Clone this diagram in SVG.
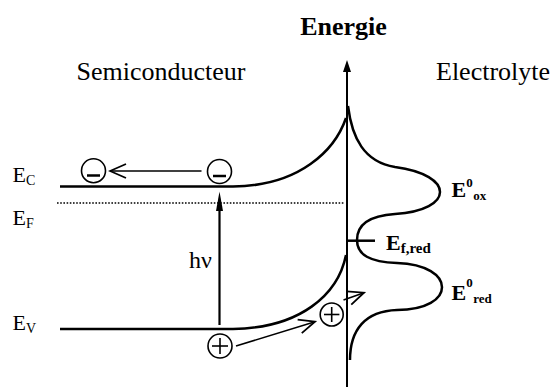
<svg xmlns="http://www.w3.org/2000/svg" width="553" height="387" viewBox="0 0 553 387">
<style>
text{font-family:"Liberation Serif","DejaVu Serif",serif;fill:#000}
.t{font-size:26px}
.b{font-weight:bold}
.ln{fill:none;stroke:#000;stroke-width:2.5}
.thin{fill:none;stroke:#000;stroke-width:1.6}
.ax{fill:none;stroke:#000;stroke-width:2}
</style>
<defs>
<marker id="open" viewBox="0 0 20 20" refX="18" refY="10" markerWidth="20" markerHeight="20" markerUnits="userSpaceOnUse" orient="auto">
<path d="M2,3 L18,10 L2,17" fill="none" stroke="#000" stroke-width="1.8"/>
</marker>
</defs>
<g id="titles">
<text class="t b" x="343.5" y="35" text-anchor="middle" font-family="Liberation Serif, serif">Energie</text>
<text class="t" x="161" y="80" text-anchor="middle" font-family="Liberation Serif, serif">Semiconducteur</text>
<text class="t" x="436" y="80" font-family="Liberation Serif, serif">Electrolyte</text>
</g>
<g id="axis">
<line class="ax" x1="347" y1="387" x2="347" y2="70"/>
<polygon points="347,60 343,72 351,72" fill="#000"/>
</g>
<g id="semiconductor-bands">
<path class="ln" d="M60,186.5 L233,186.5 C300,186 335,150 346,118"/>
<path class="ln" d="M60,329 L233,329 C300,328 338,295 346,255"/>
<line x1="57" y1="203" x2="345" y2="203" stroke="#000" stroke-width="1.6" stroke-dasharray="1.6 1.6"/>
</g>
<g id="labels-left">
<text x="12.5" y="182" font-size="22" font-family="Liberation Serif, serif">E<tspan font-size="14" dy="3">C</tspan></text>
<text x="12.5" y="225" font-size="22" font-family="Liberation Serif, serif">E<tspan font-size="14" dy="2.5">F</tspan></text>
<text x="12.5" y="330" font-size="22" font-family="Liberation Serif, serif">E<tspan font-size="14" dy="3">V</tspan></text>
</g>
<g id="electrolyte-distribution">
<path class="ln" d="M348,106 C352,138 364,162 395,167 C455,175 455,210 395,214 C365,216 357,228 357,240 C357,255 370,262 397,263 C457,265 457,310 397,310 C365,311 350,330 350,360"/>
<line class="ln" x1="347" y1="240.7" x2="375" y2="240.7"/>
</g>
<g id="labels-right">
<text class="b" x="386" y="250" font-size="22" font-family="Liberation Serif, serif">E<tspan font-size="15" dy="3">f,red</tspan></text>
<text class="b" x="451.5" y="197" font-size="22" font-family="Liberation Serif, serif">E<tspan font-size="13" dy="-10">0</tspan><tspan font-size="13" dy="12.5" dx="0.5">ox</tspan></text>
<text class="b" x="451.5" y="300" font-size="22" font-family="Liberation Serif, serif">E<tspan font-size="13" dy="-13">0</tspan><tspan font-size="13" dy="16" dx="0.5">red</tspan></text>
</g>
<g id="electron-left">
<circle class="thin" cx="93.5" cy="170.7" r="12"/>
<line x1="87" y1="175.5" x2="100" y2="175.5" stroke="#000" stroke-width="2.5"/>
</g>
<g id="electron-right">
<circle class="thin" cx="219.5" cy="171.5" r="12"/>
<line x1="213" y1="176" x2="226" y2="176" stroke="#000" stroke-width="2.5"/>
</g>
<g id="hole-left">
<circle class="thin" cx="220" cy="346" r="12"/>
<line x1="212" y1="346" x2="228" y2="346" stroke="#000" stroke-width="1.6"/>
<line x1="220" y1="338" x2="220" y2="354" stroke="#000" stroke-width="1.6"/>
</g>
<g id="hole-right">
<circle class="thin" cx="331.7" cy="314.5" r="11.5"/>
<line x1="324" y1="314.5" x2="339.4" y2="314.5" stroke="#000" stroke-width="1.6"/>
<line x1="331.7" y1="307" x2="331.7" y2="322" stroke="#000" stroke-width="1.6"/>
</g>
<g id="connectors">
<line class="thin" x1="201.5" y1="171" x2="110" y2="171" marker-end="url(#open)"/>
<line x1="219.5" y1="325" x2="219.5" y2="208" stroke="#000" stroke-width="2.2"/>
<polygon points="219.5,191.5 216,211 223,211" fill="#000"/>
<line class="thin" x1="236" y1="346" x2="315" y2="321.7" marker-end="url(#open)"/>
<line class="thin" x1="343.5" y1="300" x2="364" y2="292.7" marker-end="url(#open)"/>
</g>
<g id="hv-label">
<text x="189" y="268" font-size="24" font-family="Liberation Serif, serif">hν</text>
</g>
</svg>
